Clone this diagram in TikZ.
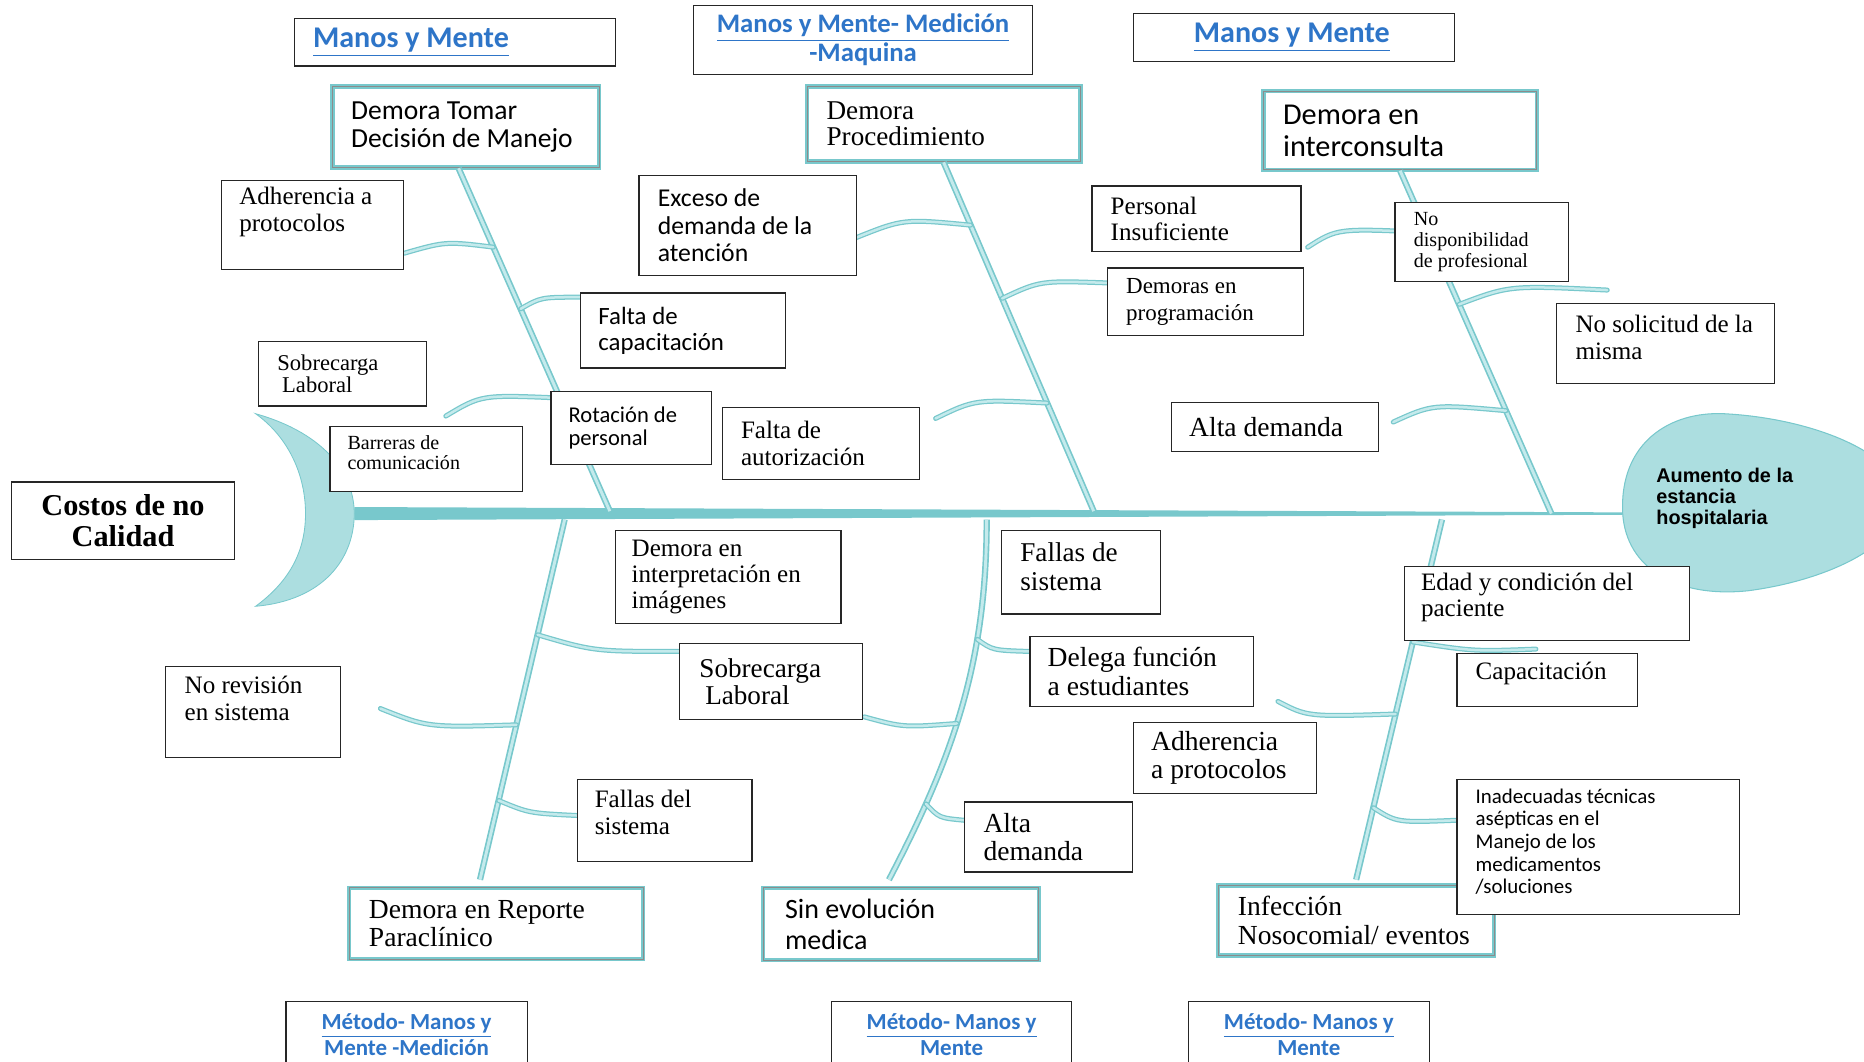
\documentclass[tikz,border=0pt]{standalone}
\usepackage{fontspec}
\setmainfont{Liberation Serif}
\setsansfont{Carlito}
\newfontfamily\headfont{Liberation Sans}

\definecolor{fishteal}{RGB}{120,200,204}
\definecolor{fishlight}{RGB}{196,234,236}
\definecolor{headfill}{RGB}{172,222,224}
\definecolor{linkblue}{RGB}{46,117,200}

\newcommand{\fs}[2]{\fontsize{#1}{#2}\selectfont}

\tikzset{
  cause/.style={draw=black!85, line width=0.6pt, fill=white, inner sep=0pt, anchor=north west},
  effect/.style={draw=fishteal, double=black!45, double distance=0.3pt, line width=0.9pt, fill=white, inner sep=0pt, anchor=north west},
  lbl/.style={inner sep=0pt, align=left, anchor=west},
  link/.style={inner sep=0pt, align=center, text=linkblue, font=\sffamily\bfseries},
  bone/.style={draw=fishteal, double=fishlight, line width=0.8pt, double distance=1.4pt},
  rib/.style={draw=fishteal, double=fishlight, line width=0.6pt, double distance=1.2pt, line cap=round},
}

\begin{document}
\begin{tikzpicture}[x=0.02cm, y=-0.02cm]
\useasboundingbox (0,0) rectangle (1568,893);

%effect boxes
\node[effect, minimum width=4.48cm, minimum height=1.36cm] (demtomar) at (279,72) {};
\node[effect, minimum width=4.6cm, minimum height=1.26cm] (demproc) at (678,72) {};
\node[effect, minimum width=4.6cm, minimum height=1.32cm] (deminter) at (1062,76) {};
\node[effect, minimum width=4.94cm, minimum height=1.2cm] (demrep) at (293,746) {};
\node[effect, minimum width=4.64cm, minimum height=1.22cm] (sinevol) at (641,746) {};
\node[effect, minimum width=4.64cm, minimum height=1.18cm] (infeccion) at (1024,744) {};

%tail
\filldraw[fill=headfill, draw=fishteal, line width=0.4pt] (215,348) .. controls (275,365) and (298,400) .. (298,432)
  .. controls (298,470) and (272,505) .. (215,510) .. controls (245,488) and (257,462) .. (257,432)
  .. controls (257,400) and (243,368) .. (215,348) -- cycle;
%head
\filldraw[fill=headfill, draw=fishteal, line width=0.5pt] (1365,432) .. controls (1362,372) and (1405,346) .. (1450,348)
  .. controls (1510,351) and (1580,372) .. (1600,410) .. controls (1610,455) and (1540,488) .. (1470,497)
  .. controls (1410,503) and (1368,478) .. (1365,432) -- cycle;

%spine
\coordinate (tail) at (298,432);
\coordinate (headw) at (1365,432);
\fill[fishteal] ([yshift=0.11cm]tail) -- ([yshift=0.02cm]headw) -- ([yshift=-0.02cm]headw) -- ([yshift=-0.11cm]tail) -- cycle;
\coordinate (u1f) at (513,430);
\coordinate (u2f) at (920,430);
\coordinate (u3f) at (1305,432);
\coordinate (l1f) at (475,437);
\coordinate (l2f) at (830,437);
\coordinate (l3f) at (1213,437);

%bones
\draw[bone] ([xshift=-0.12cm]demtomar.south) -- (u1f) coordinate[pos=.23] (j1) coordinate[pos=.41] (j2) coordinate[pos=.67] (j3);
\draw[bone] (demproc.south) -- (u2f) coordinate[pos=.18] (j4) coordinate[pos=.39] (j5) coordinate[pos=.69] (j6);
\draw[bone] (deminter.south) -- (u3f) coordinate[pos=.18] (j7) coordinate[pos=.39] (j8) coordinate[pos=.70] (j9);
\draw[bone] (l1f) -- ([xshift=-0.27cm,yshift=0.12cm]demrep.north) coordinate[pos=.32] (j10) coordinate[pos=.57] (j11) coordinate[pos=.78] (j12);
\draw[bone] (l2f) .. controls (830,560) and (800,640) .. ([xshift=-0.2cm,yshift=0.12cm]sinevol.north) coordinate[pos=.3] (j13) coordinate[pos=.54] (j14) coordinate[pos=.78] (j15);
\draw[bone] (l3f) -- ([yshift=0.08cm]infeccion.north) coordinate[pos=.34] (j16) coordinate[pos=.54] (j17) coordinate[pos=.8] (j18);

%rib ends
\coordinate (e1) at (340,213);
\coordinate (e2) at (488,250);
\coordinate (e3) at (375,350);
\coordinate (e4) at (720,200);
\coordinate (e5) at (932,238);
\coordinate (e6) at (787,352);
\coordinate (e7) at (1100,208);
\coordinate (e8) at (1352,244);
\coordinate (e9) at (1172,355);
\coordinate (e10) at (572,548);
\coordinate (e11) at (320,596);
\coordinate (e12) at (485,686);
\coordinate (e13) at (866,548);
\coordinate (e14) at (727,603);
\coordinate (e15) at (811,690);
\coordinate (e16) at (1292,546);
\coordinate (e17) at (1075,590);
\coordinate (e18) at (1225,690);

%ribs
\draw[rib] (j1) .. controls (375,203) .. (e1);
\draw[rib] (j2) .. controls (455,250) .. (e2);
\draw[rib] (j3) .. controls (405,332) .. (e3);
\draw[rib] (j4) .. controls (760,184) .. (e4);
\draw[rib] (j5) .. controls (875,236) .. (e5);
\draw[rib] (j6) .. controls (820,336) .. (e6);
\draw[rib] (j7) .. controls (1125,192) .. (e7);
\draw[rib] (j8) .. controls (1270,240) .. (e8);
\draw[rib] (j9) .. controls (1205,340) .. (e9);
\draw[rib] (j10) .. controls (500,548) .. (e10);
\draw[rib] (j11) .. controls (360,612) .. (e11);
\draw[rib] (j12) .. controls (445,684) .. (e12);
\draw[rib] (j13) .. controls (835,547) .. (e13);
\draw[rib] (j14) .. controls (760,612) .. (e14);
\draw[rib] (j15) .. controls (790,688) .. (e15);
\draw[rib] (j16) .. controls (1240,548) .. (e16);
\draw[rib] (j17) .. controls (1100,603) .. (e17);
\draw[rib] (j18) .. controls (1175,692) .. (e18);

%titles
\node[cause, minimum width=5.4cm, minimum height=0.8cm] (tmanos1) at (247,15) {};
\node[cause, minimum width=5.7cm, minimum height=1.16cm, link, font=\sffamily\bfseries\fs{12.8}{13.7}] (tmanos2) at (583,4) {\underline{Manos y Mente- Medición}\\-Maquina};
\node[cause, minimum width=5.4cm, minimum height=0.8cm] (tmanos3) at (953,11) {};
\node[cause, minimum width=4.06cm, minimum height=1.12cm, link, font=\sffamily\bfseries\fs{11}{12.5}] (tmetodo1) at (240,842) {\underline{Método- Manos y}\\Mente -Medición};
\node[cause, minimum width=4.04cm, minimum height=1.12cm, link, font=\sffamily\bfseries\fs{11}{12.5}] (tmetodo2) at (699,842) {\underline{Método- Manos y}\\Mente};
\node[cause, minimum width=4.06cm, minimum height=1.12cm, link, font=\sffamily\bfseries\fs{11}{12.5}] (tmetodo3) at (999,842) {\underline{Método- Manos y}\\Mente};
\node[link, anchor=west, font=\sffamily\bfseries\fs{14.4}{16}] (tmanos1-t) at ([xshift=0.32cm]tmanos1.west) {\underline{Manos y Mente}};
\node[link, anchor=west, font=\sffamily\bfseries\fs{14.4}{16}] (tmanos3-t) at ([xshift=1.02cm]tmanos3.west) {\underline{Manos y Mente}};

%cause boxes
\node[cause, minimum width=3.76cm, minimum height=1.3cm, align=center, font=\bfseries\fs{14.5}{14.8}] (costos) at (9,405) {Costos de no\\Calidad};
\node[cause, minimum width=3.06cm, minimum height=1.5cm] (adhprot) at (186,151) {};
\node[cause, minimum width=3.44cm, minimum height=1.26cm] (faltacap) at (488,246) {};
\node[cause, minimum width=2.82cm, minimum height=1.08cm] (sobrelab) at (217,287) {};
\node[cause, minimum width=3.24cm, minimum height=1.1cm] (barreras) at (277,358) {};
\node[cause, minimum width=2.7cm, minimum height=1.22cm] (rotacion) at (463,329) {};
\node[cause, minimum width=3.66cm, minimum height=1.68cm] (exceso) at (537,147) {};
\node[cause, minimum width=3.32cm, minimum height=1.22cm] (faltaaut) at (607,342) {};
\node[cause, minimum width=3.52cm, minimum height=1.1cm] (persinsuf) at (918,156) {};
\node[cause, minimum width=3.3cm, minimum height=1.14cm] (demprog) at (931,225) {};
\node[cause, minimum width=2.92cm, minimum height=1.32cm] (nodisp) at (1173,170) {};
\node[cause, minimum width=3.66cm, minimum height=1.34cm] (nosolic) at (1309,255) {};
\node[cause, minimum width=3.48cm, minimum height=0.82cm] (altadem) at (985,338) {};
\node[cause, minimum width=3.8cm, minimum height=1.56cm] (deminterp) at (517,446) {};
\node[cause, minimum width=3.08cm, minimum height=1.28cm] (sobrelab2) at (571,541) {};
\node[cause, minimum width=2.94cm, minimum height=1.54cm] (norev) at (139,560) {};
\node[cause, minimum width=2.94cm, minimum height=1.38cm] (fallasdel) at (485,655) {};
\node[cause, minimum width=2.68cm, minimum height=1.4cm] (fallasde) at (842,446) {};
\node[cause, minimum width=3.76cm, minimum height=1.18cm] (delega) at (866,535) {};
\node[cause, minimum width=3.08cm, minimum height=1.2cm] (adhprot2) at (953,607) {};
\node[cause, minimum width=2.82cm, minimum height=1.18cm] (altadem2) at (811,674) {};
\node[cause, minimum width=4.8cm, minimum height=1.24cm] (edad) at (1181,476) {};
\node[cause, minimum width=3.04cm, minimum height=0.9cm] (capacit) at (1225,549) {};
\node[cause, minimum width=4.76cm, minimum height=2.28cm] (inadec) at (1225,655) {};

%labels
\node[lbl, font=\sffamily\fs{13.2}{13.7}] (demtomar-t) at ([xshift=0.32cm]demtomar.west) {Demora Tomar\\Decisión de Manejo};
\node[lbl, font=\fs{13}{12.5}] (demproc-t) at ([xshift=0.34cm]demproc.west) {Demora\\Procedimiento};
\node[lbl, font=\sffamily\fs{14.5}{15.4}] (deminter-t) at ([xshift=0.34cm]deminter.west) {Demora en\\interconsulta};
\node[lbl, font=\fs{13.2}{13.7}] (demrep-t) at ([xshift=0.34cm]demrep.west) {Demora en Reporte\\Paraclínico};
\node[lbl, font=\sffamily\fs{13.4}{14.8}] (sinevol-t) at ([xshift=0.38cm]sinevol.west) {Sin evolución\\medica};
\node[lbl, font=\fs{13.2}{13.7}] (infeccion-t) at ([xshift=0.34cm]infeccion.west) {Infección\\Nosocomial/ eventos};

\node[lbl, font=\fs{12}{13.1}] (adhprot-t) at ([xshift=0.3cm,yshift=0.21cm]adhprot.west) {Adherencia a\\protocolos};
\node[lbl, font=\sffamily\fs{11.9}{12.5}] (faltacap-t) at ([xshift=0.3cm]faltacap.west) {Falta de\\capacitación};
\node[lbl, font=\fs{10.8}{10.8}] (sobrelab-t) at ([xshift=0.32cm]sobrelab.west) {Sobrecarga\\\hspace*{2.3pt}Laboral};
\node[lbl, font=\fs{9.6}{9.7}] (barreras-t) at ([xshift=0.3cm,yshift=0.1cm]barreras.west) {Barreras de\\comunicación};
\node[lbl, font=\sffamily\fs{10.8}{11.4}] (rotacion-t) at ([xshift=0.3cm]rotacion.west) {Rotación de\\personal};
\node[lbl, font=\sffamily\fs{12.3}{13.1}] (exceso-t) at ([xshift=0.32cm]exceso.west) {Exceso de\\demanda de la\\atención};
\node[lbl, font=\fs{12}{12.5}] (faltaaut-t) at ([xshift=0.32cm]faltaaut.west) {Falta de\\autorización};
\node[lbl, font=\fs{12}{12.5}] (persinsuf-t) at ([xshift=0.32cm]persinsuf.west) {Personal\\Insuficiente};
\node[lbl, font=\fs{11}{12.5}] (demprog-t) at ([xshift=0.32cm]demprog.west) {Demoras en\\programación};
\node[lbl, font=\fs{9.6}{10}] (nodisp-t) at ([xshift=0.32cm]nodisp.west) {No\\disponibilidad\\de profesional};
\node[lbl, font=\fs{12}{13.1}] (nosolic-t) at ([xshift=0.32cm,yshift=0.1cm]nosolic.west) {No solicitud de la\\misma};
\node[lbl, font=\fs{13.2}{14}] (altadem-t) at ([xshift=0.3cm]altadem.west) {Alta demanda};
\node[lbl, font=\fs{12}{12.5}] (deminterp-t) at ([xshift=0.28cm]deminterp.west) {Demora en\\interpretación en\\imágenes};
\node[lbl, font=\fs{13}{13.1}] (sobrelab2-t) at ([xshift=0.34cm]sobrelab2.west) {Sobrecarga\\\hspace*{2.8pt}Laboral};
\node[lbl, font=\fs{12}{12.5}] (norev-t) at ([xshift=0.32cm,yshift=0.23cm]norev.west) {No revisión\\en sistema};
\node[lbl, font=\fs{12}{12.8}] (fallasdel-t) at ([xshift=0.3cm,yshift=0.13cm]fallasdel.west) {Fallas del\\sistema};
\node[lbl, font=\fs{13}{13.7}] (fallasde-t) at ([xshift=0.32cm,yshift=0.1cm]fallasde.west) {Fallas de\\sistema};
\node[lbl, font=\fs{13.2}{13.7}] (delega-t) at ([xshift=0.3cm]delega.west) {Delega función\\a estudiantes};
\node[lbl, font=\fs{13.2}{13.1}] (adhprot2-t) at ([xshift=0.3cm]adhprot2.west) {Adherencia\\a protocolos};
\node[lbl, font=\fs{13.2}{13.1}] (altadem2-t) at ([xshift=0.32cm]altadem2.west) {Alta\\demanda};
\node[lbl, font=\fs{12}{12.5}] (edad-t) at ([xshift=0.28cm,yshift=0.1cm]edad.west) {Edad y condición del\\paciente};
\node[lbl, font=\fs{12}{13}] (capacit-t) at ([xshift=0.32cm,yshift=0.11cm]capacit.west) {Capacitación};
\node[lbl, font=\sffamily\fs{10}{10.8}] (inadec-t) at ([xshift=0.32cm,yshift=0.09cm]inadec.west) {Inadecuadas técnicas\\asépticas en el\\Manejo de los\\medicamentos\\/soluciones};

\node[lbl, font=\headfont\bfseries\fs{9.5}{10}] (estancia) at (1393,419) {Aumento de la\\estancia\\hospitalaria};
\end{tikzpicture}
\end{document}
